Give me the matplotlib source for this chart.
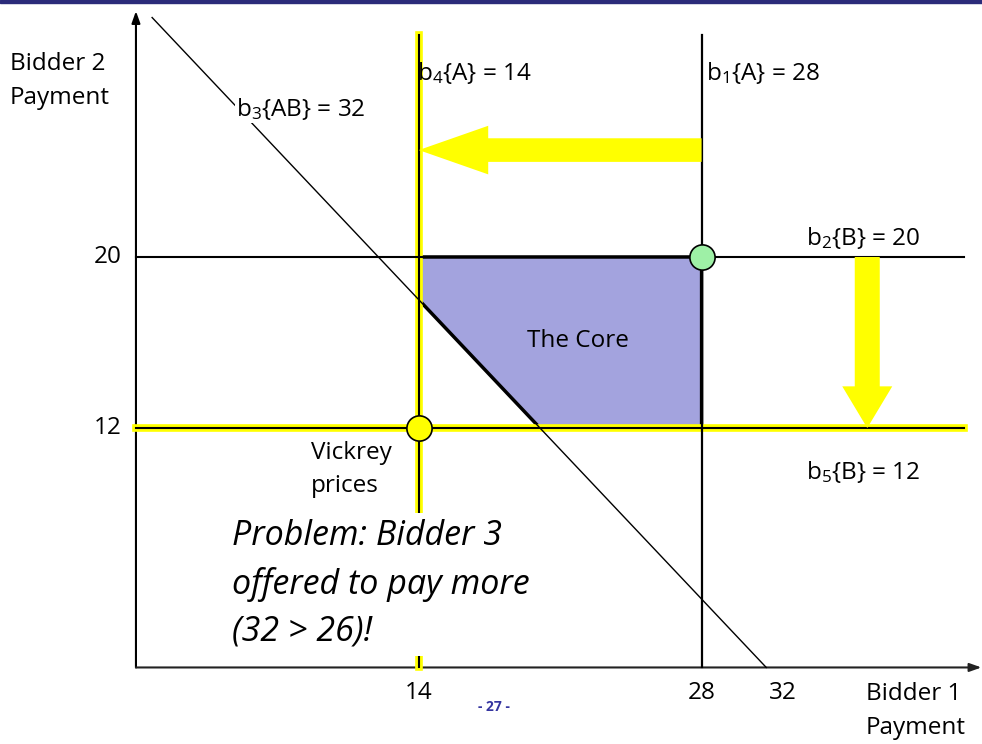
import matplotlib
matplotlib.use("Agg")
import matplotlib.pyplot as plt
from matplotlib.patches import Polygon, Rectangle

plt.rcParams['font.family'] = ['Open Sans', 'DejaVu Sans']
plt.rcParams['mathtext.fontset'] = 'custom'
plt.rcParams['mathtext.rm'] = 'Open Sans'
plt.rcParams['mathtext.it'] = 'Open Sans:italic'

# bids
b1_A = 28    # bidder 1, item A
b2_B = 20    # bidder 2, item B
b3_AB = 32   # bidder 3, package AB
b4_A = 14    # bidder 4, item A
b5_B = 12    # bidder 5, item B
x_ticks = [14, 28, 32]
y_ticks = [20, 12]

# layout (data units)
X_LIM = (-6.73, 41.88)
Y_LIM = (-2.78, 32.02)
AXIS_Y = 0.8
LINE_TOP = 30.4
LINE_RIGHT = 41.0
FS = 17.5

fig = plt.figure(figsize=(9.82, 7.44), dpi=100)
ax = fig.add_axes([0, 0, 1, 1])
ax.set_xlim(*X_LIM)
ax.set_ylim(*Y_LIM)
ax.axis('off')

# top navy bar of the slide
fig.patches.append(Rectangle((0, 0.996), 1, 0.004, transform=fig.transFigure,
                             color='#2b2b7a', zorder=10))

# axes with arrows
ax.annotate('', xy=(0, 31.5), xytext=(0, AXIS_Y),
            arrowprops=dict(arrowstyle='-|>,head_length=0.7,head_width=0.25',
                            color='black', lw=1.5, shrinkA=0, shrinkB=0))
ax.annotate('', xy=(41.85, AXIS_Y), xytext=(0, AXIS_Y),
            arrowprops=dict(arrowstyle='-|>,head_length=0.7,head_width=0.25',
                            color='#222222', lw=1.5, shrinkA=0, shrinkB=0))

# core region
core = [(b4_A, b2_B), (b1_A, b2_B), (b1_A, b5_B),
        (b3_AB - b5_B, b5_B), (b4_A, b3_AB - b4_A)]
ax.add_patch(Polygon(core, closed=True, fc='#a3a3de', ec='black', lw=2.5, zorder=2))

# bid constraint lines
ax.plot([b4_A, b4_A], [AXIS_Y, LINE_TOP], color='yellow', lw=5.5, zorder=3)
ax.plot([b4_A, b4_A], [AXIS_Y, LINE_TOP], color='black', lw=1.5, zorder=4)
ax.plot([b1_A, b1_A], [AXIS_Y, LINE_TOP], color='black', lw=1.6, zorder=4)
ax.plot([0, LINE_RIGHT], [b2_B, b2_B], color='black', lw=1.5, zorder=4)
ax.plot([0, LINE_RIGHT], [b5_B, b5_B], color='yellow', lw=5.5, zorder=3)
ax.plot([0, LINE_RIGHT], [b5_B, b5_B], color='black', lw=1.5, zorder=4)
ax.plot([b3_AB - 31.2, b3_AB - AXIS_Y], [31.2, AXIS_Y], color='black', lw=1.0, zorder=4)

# yellow arrows
ax.annotate('', xy=(b4_A, 25), xytext=(b1_A, 25),
            arrowprops=dict(arrowstyle='simple,head_length=50,head_width=35,tail_width=17',
                            mutation_scale=1, fc='yellow', ec='none',
                            shrinkA=0, shrinkB=0), zorder=5)
ax.annotate('', xy=(36.2, b5_B), xytext=(36.2, b2_B),
            arrowprops=dict(arrowstyle='simple,head_length=30,head_width=36,tail_width=18',
                            mutation_scale=1, fc='yellow', ec='none',
                            shrinkA=0, shrinkB=0), zorder=5)

# points
ax.scatter([b1_A], [b2_B], s=330, c='#9ef0a6', edgecolors='black', linewidths=1.2, zorder=6)
ax.scatter([b4_A], [b5_B], s=330, c='yellow', edgecolors='black', linewidths=1.2, zorder=6)

# tick labels
for xv in x_ticks:
    ax.text(xv, -0.4, str(xv), ha='center', va='center', fontsize=FS)
for yv in y_ticks:
    ax.text(-0.7, yv, str(yv), ha='right', va='center', fontsize=FS)

# labels
ax.text(-6.24, 28.24, 'Bidder 2\nPayment', ha='left', va='center', fontsize=FS, linespacing=1.55)
ax.text(36.14, -1.24, 'Bidder 1\nPayment', ha='left', va='center', fontsize=FS, linespacing=1.55)
ax.text(13.9, 28.6, r'b$_4${A} = 14', ha='left', va='center', fontsize=FS)
ax.text(28.2, 28.6, r'b$_1${A} = 28', ha='left', va='center', fontsize=FS)
ax.text(4.95, 26.9, r'b$_3${AB} = 32', ha='left', va='center', fontsize=FS, zorder=6,
        bbox=dict(fc='white', ec='none', pad=0.5))
ax.text(33.15, 20.9, r'b$_2${B} = 20', ha='left', va='center', fontsize=FS)
ax.text(33.15, 9.94, r'b$_5${B} = 12', ha='left', va='center', fontsize=FS)
ax.text(21.88, 16.07, 'The Core', ha='center', va='center', fontsize=FS)
ax.text(8.66, 10.08, 'Vickrey\nprices', ha='left', va='center', fontsize=FS, linespacing=1.5)
ax.text(4.75, 4.7, 'Problem: Bidder 3\noffered to pay more\n(32 > 26)!', ha='left', va='center',
        fontsize=24.5, style='italic', linespacing=1.5, zorder=7,
        bbox=dict(fc='white', ec='none', pad=5))
ax.text(17.72, -1.05, '- 27 -', ha='center', va='center', fontsize=10,
        fontweight='bold', color='#3535a0')

plt.savefig('out.png', dpi=100)
